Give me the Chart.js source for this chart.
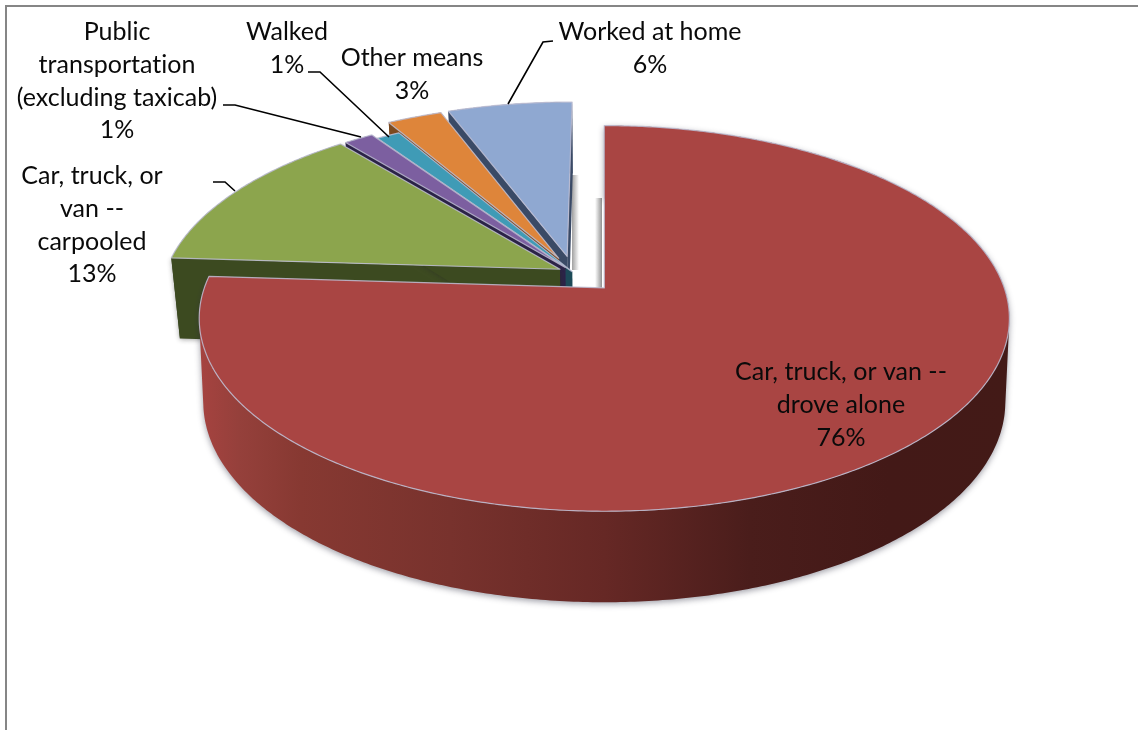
<!DOCTYPE html>
<html><head><meta charset="utf-8">
<style>html,body{margin:0;padding:0;background:#fff}canvas{display:block}</style>
<script src="https://cdn.jsdelivr.net/npm/chart.js@4"></script>
</head><body>
<canvas id="c" width="1138" height="730"></canvas>
<script>
const categories = ["Car, truck, or van -- drove alone","Car, truck, or van -- carpooled","Public transportation (excluding taxicab)","Walked","Other means","Worked at home"];
const shares = [76,13,1.4,1.1,2.6,5.9];
const explosion = [11.5,3.8,3.4,0.5,8.7,9];
const topColors = ["#a94543","#8ca54d","#7c5fa0","#3f9bb6","#de853a","#8fa8d1"];
const wallColors = ["#7a322d","#3c4a20","#2b2248","#1c4a58","#7c4a20","#3a4a66"];
const labelLines = [["Car, truck, or van --","drove alone"],["Car, truck, or","van --","carpooled"],["Public","transportation","(excluding taxicab)"],["Walked"],["Other means"],["Worked at home"]];
const labelAnchors = [[841,372],[92,176],[117,32],[287,32],[412,58],[650,32]];
const leaders = [null,[[213,182],[225,182],[235,191]],[[223,105],[235,105],[361,137]],[[308,72],[320,72],[389,137]],null,[[508,104],[543,42],[553,41]]];
const LINE = 32.8;

const K=-0.158, A=400, B=188, X0=604, Y0=288, CU=-0.078, CV=-0.084;
const proj=(u,v)=>{const w=1+K*v;return [X0+A*u/w,Y0+B*v/w];};
const low=(u,v)=>{const p=proj(u,v);const f=Math.min(0.99,0.98+0.08*Math.max(v,0));return [604+(p[0]-604)*f,p[1]+82+9*v];};

function addQuad(ctx,a,b,c,d){
  const area=(b[0]-a[0])*(c[1]-a[1])-(b[1]-a[1])*(c[0]-a[0])+(c[0]-a[0])*(d[1]-a[1])-(c[1]-a[1])*(d[0]-a[0]);
  const pts=area>=0?[a,b,c,d]:[d,c,b,a];
  ctx.moveTo(pts[0][0],pts[0][1]);
  for(let i=1;i<4;i++)ctx.lineTo(pts[i][0],pts[i][1]);
  ctx.closePath();
}

const pie3d={
  id:'pie3d',
  beforeDatasetDraw(chart,args){
    const ctx=chart.ctx, arcs=chart.getDatasetMeta(0).data;
    ctx.save();
    let g=ctx.createLinearGradient(572,0,579,0);g.addColorStop(0,'#a0a0a0');g.addColorStop(1,'rgba(160,160,160,0)');
    ctx.fillStyle=g;ctx.fillRect(572,175,7,95);
    g=ctx.createLinearGradient(595,0,602,0);g.addColorStop(0,'rgba(150,150,150,0)');g.addColorStop(1,'#8f8f8f');
    ctx.fillStyle=g;ctx.fillRect(595,198,7,90);
    const order=[5,4,3,2,1,0];
    for(const i of order){
      const a=arcs[i], s=a.startAngle, e=a.endAngle, m=(s+e)/2, off=a.options.offset/100;
      const ou=CU+Math.cos(m)*off, ov=CV+Math.sin(m)*off;
      const n=Math.max(4,Math.ceil((e-s)/0.01));
      const rim=[];
      for(let j=0;j<=n;j++){const t=s+(e-s)*j/n;rim.push([ou+Math.cos(t),ov+Math.sin(t)]);}
      ctx.beginPath();
      for(let j=0;j<n;j++){
        addQuad(ctx,proj(rim[j][0],rim[j][1]),proj(rim[j+1][0],rim[j+1][1]),low(rim[j+1][0],rim[j+1][1]),low(rim[j][0],rim[j][1]));
      }
      if(i===0){
        const w=ctx.createLinearGradient(199,0,1010,0);
        w.addColorStop(0,'#a64340');w.addColorStop(0.05,'#95403b');w.addColorStop(0.125,'#873932');w.addColorStop(0.31,'#78322d');
        w.addColorStop(0.5,'#662825');w.addColorStop(0.68,'#4a1d1b');w.addColorStop(0.85,'#431917');w.addColorStop(1,'#431a17');
        ctx.fillStyle=w;
        ctx.shadowColor='rgba(40,40,60,.45)';ctx.shadowBlur=6;ctx.shadowOffsetY=2;
      } else ctx.fillStyle=wallColors[i];
      ctx.fill('nonzero');
      ctx.shadowColor='transparent';ctx.shadowBlur=0;ctx.shadowOffsetY=0;
      for(const q of [rim[0],rim[n]]){
        const p1=proj(ou,ov),p2=proj(q[0],q[1]),p3=low(q[0],q[1]),p4=low(ou,ov);
        ctx.beginPath();ctx.moveTo(p1[0],p1[1]);ctx.lineTo(p2[0],p2[1]);ctx.lineTo(p3[0],p3[1]);ctx.lineTo(p4[0],p4[1]);ctx.closePath();
        ctx.fillStyle=wallColors[i];
        if(i===1){ctx.shadowColor='rgba(40,40,40,.4)';ctx.shadowBlur=5;ctx.shadowOffsetY=1;}
        ctx.fill();
        ctx.shadowColor='transparent';ctx.shadowBlur=0;ctx.shadowOffsetY=0;
      }
      ctx.beginPath();
      const c=proj(ou,ov);ctx.moveTo(c[0],c[1]);
      rim.forEach(q=>{const p=proj(q[0],q[1]);ctx.lineTo(p[0],p[1]);});
      ctx.closePath();
      ctx.fillStyle=topColors[i];ctx.fill();
      ctx.strokeStyle='rgba(190,190,212,.85)';ctx.lineWidth=1.2;ctx.lineJoin='round';ctx.stroke();
    }
    ctx.restore();
    return false;
  },
  afterDraw(chart){
    const ctx=chart.ctx;
    ctx.save();
    ctx.fillStyle='#868686';ctx.fillRect(5,5,1133,2);ctx.fillRect(5,5,2,725);
    ctx.strokeStyle='#000';ctx.lineWidth=1.6;
    leaders.forEach(l=>{if(!l)return;ctx.beginPath();l.forEach((p,j)=>j?ctx.lineTo(p[0],p[1]):ctx.moveTo(p[0],p[1]));ctx.stroke();});
    ctx.fillStyle='#0a0a0a';ctx.font='25px Lato';ctx.letterSpacing='0.01px';ctx.textAlign='center';ctx.textBaseline='middle';
    labelLines.forEach((lines,i)=>{
      const [x,y]=labelAnchors[i];
      [...lines,Math.round(shares[i])+'%'].forEach((t,j)=>ctx.fillText(t,x,y+j*LINE));
    });
    ctx.restore();
  }
};

new Chart(document.getElementById('c'),{
  type:'pie',
  data:{labels:categories,datasets:[{data:shares,backgroundColor:topColors,offset:explosion,borderWidth:0}]},
  options:{responsive:false,animation:false,plugins:{legend:{display:false},tooltip:{enabled:false}}},
  plugins:[pie3d]
});
</script>
</body></html>
